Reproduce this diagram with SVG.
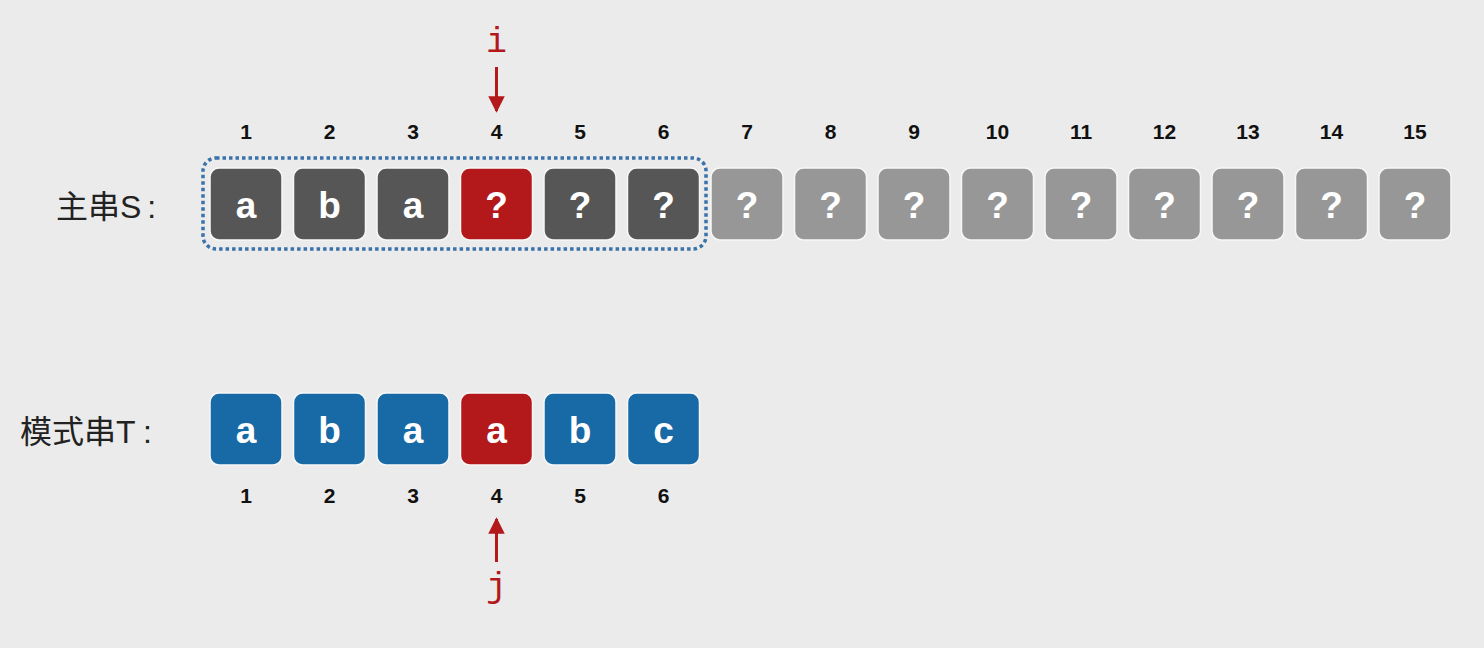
<svg xmlns="http://www.w3.org/2000/svg" width="1484" height="648" viewBox="0 0 1484 648">
<defs>
<style>
.bg{fill:#ebebeb}
.box{stroke:#f7f7f7;stroke-width:1.5}
.dk{fill:#565656}.gy{fill:#979797}.rd{fill:#b3191a}.bl{fill:#176aa6}
.ch{font-family:"Liberation Sans",Arial,sans-serif;font-weight:bold;font-size:37px;fill:#fff;text-anchor:middle}
.num{font-family:"Liberation Sans",Arial,sans-serif;font-weight:bold;font-size:21px;fill:#111;text-anchor:middle}
.lbl{font-family:"Liberation Sans","Noto Sans CJK SC",sans-serif;font-size:32px;fill:#222}
.ptr{font-family:"Liberation Mono","DejaVu Sans Mono",monospace;font-size:35px;fill:#b3191a;text-anchor:middle}
.arr{stroke:#b3191a;stroke-width:3;fill:none}
</style>
<marker id="ah" viewBox="0 0 10 10" refX="9" refY="5" markerWidth="5.5" markerHeight="5.5" orient="auto" markerUnits="strokeWidth">
<path d="M0,0 L10,5 L0,10 z" fill="#b3191a"/>
</marker>
</defs>
<rect class="bg" width="1484" height="648"/>

<g id="label-S"><text class="lbl" x="56" y="218">主串S<tspan dx="6">:</tspan></text></g>
<g id="label-T"><text class="lbl" x="20" y="443">模式串T<tspan dx="11">:</tspan></text></g>

<g id="window"><rect x="203" y="158" width="503" height="91" rx="13" fill="none" stroke="#3a72aa" stroke-width="3.5" stroke-dasharray="3.5 3"/></g>

<g id="S-indices">
<text class="num" x="246" y="139">1</text><text class="num" x="329.5" y="139">2</text><text class="num" x="413" y="139">3</text><text class="num" x="496.5" y="139">4</text><text class="num" x="580" y="139">5</text><text class="num" x="663.5" y="139">6</text><text class="num" x="747" y="139">7</text><text class="num" x="830.5" y="139">8</text><text class="num" x="914" y="139">9</text><text class="num" x="997.5" y="139">10</text><text class="num" x="1081" y="139">11</text><text class="num" x="1164.5" y="139">12</text><text class="num" x="1248" y="139">13</text><text class="num" x="1331.5" y="139">14</text><text class="num" x="1415" y="139">15</text>
</g>

<g id="S1"><rect class="box dk" x="210" y="168" width="72" height="72" rx="9"/><text class="ch" x="246" y="218">a</text></g>
<g id="S2"><rect class="box dk" x="293.5" y="168" width="72" height="72" rx="9"/><text class="ch" x="329.5" y="218">b</text></g>
<g id="S3"><rect class="box dk" x="377" y="168" width="72" height="72" rx="9"/><text class="ch" x="413" y="218">a</text></g>
<g id="S4"><rect class="box rd" x="460.5" y="168" width="72" height="72" rx="9"/><text class="ch" x="496.5" y="218">?</text></g>
<g id="S5"><rect class="box dk" x="544" y="168" width="72" height="72" rx="9"/><text class="ch" x="580" y="218">?</text></g>
<g id="S6"><rect class="box dk" x="627.5" y="168" width="72" height="72" rx="9"/><text class="ch" x="663.5" y="218">?</text></g>
<g id="S7"><rect class="box gy" x="711" y="168" width="72" height="72" rx="9"/><text class="ch" x="747" y="218">?</text></g>
<g id="S8"><rect class="box gy" x="794.5" y="168" width="72" height="72" rx="9"/><text class="ch" x="830.5" y="218">?</text></g>
<g id="S9"><rect class="box gy" x="878" y="168" width="72" height="72" rx="9"/><text class="ch" x="914" y="218">?</text></g>
<g id="S10"><rect class="box gy" x="961.5" y="168" width="72" height="72" rx="9"/><text class="ch" x="997.5" y="218">?</text></g>
<g id="S11"><rect class="box gy" x="1045" y="168" width="72" height="72" rx="9"/><text class="ch" x="1081" y="218">?</text></g>
<g id="S12"><rect class="box gy" x="1128.5" y="168" width="72" height="72" rx="9"/><text class="ch" x="1164.5" y="218">?</text></g>
<g id="S13"><rect class="box gy" x="1212" y="168" width="72" height="72" rx="9"/><text class="ch" x="1248" y="218">?</text></g>
<g id="S14"><rect class="box gy" x="1295.5" y="168" width="72" height="72" rx="9"/><text class="ch" x="1331.5" y="218">?</text></g>
<g id="S15"><rect class="box gy" x="1379" y="168" width="72" height="72" rx="9"/><text class="ch" x="1415" y="218">?</text></g>

<g id="T1"><rect class="box bl" x="210" y="393" width="72" height="72" rx="9"/><text class="ch" x="246" y="443">a</text></g>
<g id="T2"><rect class="box bl" x="293.5" y="393" width="72" height="72" rx="9"/><text class="ch" x="329.5" y="443">b</text></g>
<g id="T3"><rect class="box bl" x="377" y="393" width="72" height="72" rx="9"/><text class="ch" x="413" y="443">a</text></g>
<g id="T4"><rect class="box rd" x="460.5" y="393" width="72" height="72" rx="9"/><text class="ch" x="496.5" y="443">a</text></g>
<g id="T5"><rect class="box bl" x="544" y="393" width="72" height="72" rx="9"/><text class="ch" x="580" y="443">b</text></g>
<g id="T6"><rect class="box bl" x="627.5" y="393" width="72" height="72" rx="9"/><text class="ch" x="663.5" y="443">c</text></g>

<g id="T-indices">
<text class="num" x="246" y="503">1</text><text class="num" x="329.5" y="503">2</text><text class="num" x="413" y="503">3</text><text class="num" x="496.5" y="503">4</text><text class="num" x="580" y="503">5</text><text class="num" x="663.5" y="503">6</text>
</g>

<g id="pointer-i"><text class="ptr" x="496.5" y="52">i</text></g>
<g id="pointer-j"><text class="ptr" x="496.5" y="597">j</text></g>

<g id="connectors">
<line class="arr" x1="496.5" y1="67" x2="496.5" y2="111" marker-end="url(#ah)"/>
<line class="arr" x1="496.5" y1="562" x2="496.5" y2="519" marker-end="url(#ah)"/>
</g>
</svg>
